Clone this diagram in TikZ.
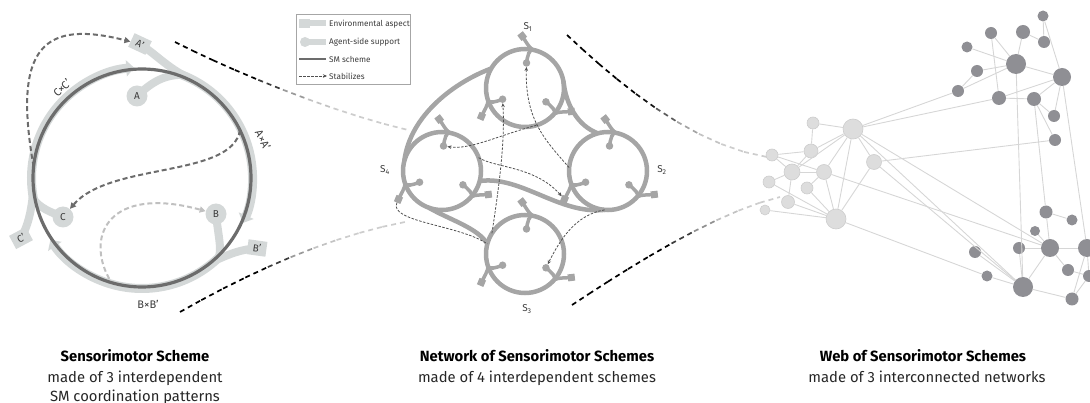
\documentclass[tikz,border=0pt]{standalone}
\usepackage{fontspec}
\setmainfont{Fira Sans}
\usetikzlibrary{calc,arrows.meta}

\definecolor{bandgray}{RGB}{212,216,216}
\definecolor{ringdark}{RGB}{108,108,108}
\definecolor{dashdark}{RGB}{108,108,108}
\definecolor{dashlight}{RGB}{192,192,192}
\definecolor{netgray}{RGB}{165,165,165}
\definecolor{netdash}{RGB}{80,80,80}
\definecolor{webdark}{RGB}{143,143,148}
\definecolor{weblight}{RGB}{221,221,221}
\definecolor{weblightrim}{RGB}{205,205,205}
\definecolor{webedge}{RGB}{214,214,214}
\definecolor{labelgray}{RGB}{60,60,60}
\definecolor{fadeend}{RGB}{205,205,205}

\pgfdeclarelayer{under}
\pgfsetlayers{under,main}

\tikzset{
  band/.style={bandgray, line width=9pt},
  bandarrow/.style={band, -{Triangle[length=8pt,width=16pt]}},
  stem/.style={bandgray, line width=8pt},
  bigbub/.style={circle, fill=bandgray, minimum size=21pt, inner sep=0pt,
    text=labelgray, font=\fontsize{10}{12}\selectfont},
  bigbox/.style={rectangle, fill=bandgray, minimum width=19pt, minimum height=15pt,
    inner sep=0pt, text=labelgray, font=\fontsize{10}{12}\selectfont},
  ringlabel/.style={text=labelgray, font=\fontsize{11}{13}\selectfont, inner sep=0pt},
  stabdark/.style={dashdark, line width=2pt, dash pattern=on 5pt off 3pt,
    -{Triangle[length=6pt,width=6pt]}},
  stablight/.style={dashlight, line width=2pt, dash pattern=on 5pt off 3pt,
    -{Triangle[length=6pt,width=6pt]}},
  netring/.style={circle, minimum size=78pt, inner sep=0pt, outer sep=0pt},
  netline/.style={netgray, line width=4.5pt},
  netstem/.style={netgray, line width=3.5pt},
  netbox/.style={rectangle, fill=netgray, minimum size=7pt, inner sep=0pt},
  netbub/.style={circle, fill=netgray, minimum size=7.5pt, inner sep=0pt},
  stabnet/.style={netdash, line width=0.8pt, dash pattern=on 2.5pt off 1.5pt,
    -{Stealth[length=4pt,width=3.5pt]}},
  slabel/.style={text=labelgray, font=\fontsize{10}{12}\selectfont, inner sep=0pt},
  legendtext/.style={anchor=west, text=labelgray, font=\fontsize{8.2}{10}\selectfont, inner sep=0pt},
  wd/.style={circle, fill=webdark, minimum size=#1, inner sep=0pt},
  wl/.style={circle, fill=weblight, draw=weblightrim, line width=0.6pt, minimum size=#1, inner sep=0pt},
  wedge/.style={webedge, line width=0.9pt},
  paneldash/.style={line width=1.7pt, dash pattern=on 5pt off 4pt},
  captitle/.style={anchor=base, text=black, font=\bfseries\fontsize{14.8}{17}\selectfont, inner sep=0pt},
  capline/.style={anchor=base, text=black!85, font=\fontsize{14.8}{17}\selectfont, inner sep=0pt},
}

% one coordination pattern on a scheme ring: environment box outside, support bubble inside
\newcommand\netpattern[3]{%
  \begin{scope}[shift={(#1.#2)}, rotate=#2-90]
    \draw[netstem] (-10,12) .. controls (-5,6.5) and (-2,2) .. (2,0);
    \draw[netstem] (-2,-14) .. controls (-2,-6) and (-1,-1) .. (2,0);
    \draw[netstem, line width=1.8pt] (-2.5,4) -- (2.5,0) -- (-2.5,-4);
    \node[netbox, rotate=#2-135] (#3e) at (-10,12) {};
    \node[netbub] (#3b) at (-2,-14) {};
  \end{scope}}

% dashed guide curve that turns from black to light grey
\newcommand\fadedash[5]{%
  \path #1 .. controls #2 and #3 .. #4
    coordinate[pos=0] (f0) coordinate[pos=0.1] (f1) coordinate[pos=0.2] (f2)
    coordinate[pos=0.3] (f3) coordinate[pos=0.4] (f4) coordinate[pos=0.5] (f5)
    coordinate[pos=0.6] (f6) coordinate[pos=0.7] (f7) coordinate[pos=0.8] (f8)
    coordinate[pos=0.9] (f9) coordinate[pos=1] (f10);
  \foreach \i/\j/\m in {#5}
    \draw[paneldash, fadeend!\m!black] (f\i) -- (f\j);
}

\begin{document}
\begin{tikzpicture}[x=1pt,y=1pt]
\useasboundingbox (0,0) rectangle (1090,-403);

% ================= single sensorimotor scheme =================
\coordinate (O) at (142,-178);
\coordinate (ringC) at ($(O)+(174:109)$);
\coordinate (ringA) at ($(O)+(26:109)$);
\coordinate (ringB) at ($(O)+(252:106)$);
\node[bigbub] (A) at (137,-96) {A};
\node[bigbox, rotate=-25] (Ap) at (140,-44) {A’};
\node[bigbub] (B) at (216,-214) {B};
\node[bigbox, rotate=-8] (Bp) at (257,-248) {B’};
\node[bigbub] (C) at (63,-217) {C};
\node[bigbox, rotate=28] (Cp) at (21,-238) {C’};

\begin{pgfonlayer}{under}
  \draw[bandarrow] ($(O)+(193:110.5)$) arc[start angle=193, end angle=94, radius=110.5];
  \draw[bandarrow] ($(O)+(70:110.5)$) arc[start angle=70, end angle=-24, radius=110.5];
  \draw[bandarrow] ($(O)+(-44:110.5)$) arc[start angle=-44, end angle=-146, radius=110.5];
  \draw[stem] (A.center) .. controls (150,-84) and (162,-75) .. ($(O)+(69:110.5)$);
  \draw[stem] (Ap.center) .. controls (158,-56) and (170,-70) .. ($(O)+(63:110.5)$);
  \draw[stem] (B.center) .. controls (218,-235) and (222,-248) .. ($(O)+(-46:110.5)$);
  \draw[stem] (Bp.center) .. controls (240,-250) and (232,-253) .. ($(O)+(-48:110.5)$);
  \draw[stem] (C.center) .. controls (50,-212) and (40,-208) .. ($(O)+(191:110.5)$);
  \draw[stem] (Cp.center) .. controls (28,-226) and (31,-212) .. ($(O)+(189:110.5)$);
\end{pgfonlayer}

% the SM scheme itself
\draw[ringdark, line width=3.2pt] (O) circle[radius=109];

\draw[stabdark] (ringC) .. controls (12,-45) and (45,-20) .. (Ap);
\draw[stabdark] (ringA) .. controls (232,-178) and (110,-162) .. (C);
\draw[stablight] (ringB) .. controls (85,-235) and (110,-185) .. (B);

\node[ringlabel, rotate=45] (lcc) at (62,-88) {C×C’};
\node[ringlabel, rotate=-62] (laa) at (263,-140) {A×A’};
\node[ringlabel] (lbb) at (148,-304) {B×B’};

% ================= network of schemes =================
\node[netring] (S1) at (525,-88) {};
\node[netring] (S2) at (608,-171) {};
\node[netring] (S3) at (525,-254) {};
\node[netring] (S4) at (442,-171) {};
\foreach \s in {S1,S2,S3,S4}
  \draw[netline] (\s) circle[radius=39];

% links between schemes
\draw[netline] (S1.150) .. controls (455,-82) and (410,-115) .. (S4.165);
\draw[netline] (S1.10) .. controls (566,-105) and (578,-126) .. (S2.105);
\draw[netline] (S4.345) .. controls (520,-175) and (560,-215) .. (S2.265);
\draw[netline] (S4.250) .. controls (450,-220) and (478,-228) .. (S3.165);

\foreach \s in {S1,S2,S3,S4}{
  \netpattern{\s}{82}{\s t}
  \netpattern{\s}{202}{\s l}
  \netpattern{\s}{322}{\s r}
}

\draw[stabnet] (S3.148) .. controls (500,-180) and (505,-140) .. (S1lb);
\draw[stabnet] (S2.175) .. controls (545,-140) and (525,-120) .. (S1tb);
\draw[stabnet] (S1.287) .. controls (500,-135) and (470,-150) .. (S4tb);
\draw[stabnet] (S4.20) .. controls (495,-168) and (535,-166) .. (S2le);
\draw[stabnet, -] (S4le) .. controls (388,-222) and (460,-225) .. (S3.165);
\draw[stabnet] (S2.265) .. controls (575,-215) and (560,-240) .. (S3rb);

\node[slabel] (s1lab) at (528,-27) {S\textsubscript{1}};
\node[slabel] (s2lab) at (662,-170) {S\textsubscript{2}};
\node[slabel] (s3lab) at (527,-309) {S\textsubscript{3}};
\node[slabel] (s4lab) at (385,-170) {S\textsubscript{4}};

% legend
\node[draw=black!35, line width=0.8pt, fill=white, minimum width=114pt,
  minimum height=70pt, inner sep=0pt] (legend) at (353,-49) {};
\fill[bandgray] (299,-19) rectangle (310,-28);
\fill[bandgray] (310,-20.5) rectangle (326,-26.5);
\node[legendtext] (lg1) at (329,-24) {Environmental aspect};
\fill[bandgray] (305,-42) circle (5);
\fill[bandgray] (305,-39) rectangle (326,-45);
\node[legendtext] (lg2) at (329,-42) {Agent-side support};
\draw[ringdark, line width=2.5pt] (299,-59) -- (326,-59);
\node[legendtext] (lg3) at (329,-59) {SM scheme};
\coordinate (lgs) at (299,-76);
\coordinate (lge) at (327,-76);
\draw[stabnet] (lgs) -- (lge);
\node[legendtext] (lg4) at (329,-76) {Stabilizes};

% ================= web of networks =================
\node[wd=11pt] (d1) at (1043,-16) {};
\node[wd=12pt] (d2) at (991,-33) {};
\node[wd=14pt] (d3) at (1023,-32) {};
\node[wd=12pt] (d4) at (1044,-42) {};
\node[wd=11pt] (d5) at (967,-47) {};
\node[wd=20pt] (d6) at (1016,-64) {};
\node[wd=18pt] (d7) at (1062,-77) {};
\node[wd=12pt] (d8) at (977,-71) {};
\node[wd=12pt] (d9) at (958,-91) {};
\node[wd=14pt] (d10) at (999,-98) {};
\node[wd=14pt] (d11) at (1034,-99) {};
\node[wd=12pt] (d12) at (1054,-116) {};
\node[wd=12pt] (d13) at (1055,-140) {};

\node[wd=13pt] (e1) at (1046,-212) {};
\node[wd=11pt] (e2) at (1072,-220) {};
\node[wd=10pt] (e3) at (1035,-231) {};
\node[wd=12pt] (e4) at (1019,-248) {};
\node[wd=18pt] (e5) at (1050,-248) {};
\node[wd=18pt] (e6) at (1087,-248) {};
\node[wd=12pt] (e7) at (975,-252) {};
\node[wd=12pt] (e8) at (1068,-270) {};
\node[wd=12pt] (e9) at (1089,-276) {};
\node[wd=11pt] (e10) at (987,-276) {};
\node[wd=20pt] (e11) at (1023,-287) {};
\node[wd=13pt] (e12) at (1072,-299) {};

\node[wl=12pt] (l1) at (813,-123) {};
\node[wl=20pt] (l2) at (853,-129) {};
\node[wl=12pt] (l3) at (772,-155) {};
\node[wl=14pt] (l4) at (811,-151) {};
\node[wl=16pt] (l5) at (792,-172) {};
\node[wl=15pt] (l6) at (824,-172) {};
\node[wl=15pt] (l7) at (874,-162) {};
\node[wl=12pt] (l8) at (769,-182) {};
\node[wl=12pt] (l9) at (807,-188) {};
\node[wl=13pt] (l10) at (788,-202) {};
\node[wl=10pt] (l11) at (765,-210) {};
\node[wl=20pt] (l12) at (836,-219) {};

\foreach \u/\v in {d5/d6,d2/d6,d3/d6,d3/d4,d1/d4,d1/d7,d6/d7,d6/d8,d6/d9,d8/d9,
  d2/d10,d10/d11,d7/d10,d7/d11,d7/d12,d11/d12,d11/d13,d6/e11,d11/e1,d7/e6,
  d9/l2,d10/l2,d13/l7,
  l1/l2,l1/l4,l3/l4,l3/l5,l4/l5,l4/l2,l5/l2,l6/l2,l2/l12,l2/l7,l5/l6,l6/l9,
  l5/l10,l8/l5,l8/l12,l10/l12,l11/l12,l6/l12,l7/l12,l9/l12,l3/l6,
  l2/e5,l6/e5,l7/e11,l2/e11,l12/e10,
  e1/e2,e1/e5,e3/e5,e4/e5,e5/e6,e5/e11,e4/e11,e7/e11,e10/e11,e11/e12,e6/e12,
  e5/e8,e8/e9,e6/e9,e9/e12}
  \draw[wedge] (\u) -- (\v);

% ================= guide lines between panels =================
\fadedash{(175,-42)}{(230,-70)}{(330,-112)}{(408,-130)}%
  {0/1/0,1/2/0,2/3/0,3/4/0,4/5/30,5/6/75,6/7/95,7/8/100,8/9/100,9/10/100}
\fadedash{(180,-312)}{(250,-272)}{(330,-236)}{(405,-222)}%
  {0/1/0,1/2/0,2/3/0,3/4/0,4/5/30,5/6/75,6/7/95,7/8/100,8/9/100,9/10/100}
\fadedash{(567,-35)}{(615,-80)}{(690,-145)}{(767,-157)}%
  {0/1/0,1/2/0,2/3/0,3/4/0,4/5/10,5/6/45,6/7/80,7/8/95,8/9/100,9/10/100}
\fadedash{(572,-305)}{(625,-270)}{(715,-212)}{(780,-197)}%
  {0/1/0,1/2/0,2/3/0,3/4/0,4/5/0,5/6/30,6/7/70,7/8/95,8/9/100,9/10/100}

% ================= captions =================
\node[captitle] (t1) at (135,-362) {Sensorimotor Scheme};
\node[capline] (t1a) at (135,-382) {made of 3 interdependent};
\node[capline] (t1b) at (135,-401) {SM coordination patterns};
\node[captitle] (t2) at (537,-362) {Network of Sensorimotor Schemes};
\node[capline] (t2a) at (537,-382) {made of 4 interdependent schemes};
\node[captitle] (t3) at (923,-362) {Web of Sensorimotor Schemes};
\node[capline] (t3a) at (927,-382) {made of 3 interconnected networks};
\end{tikzpicture}
\end{document}
